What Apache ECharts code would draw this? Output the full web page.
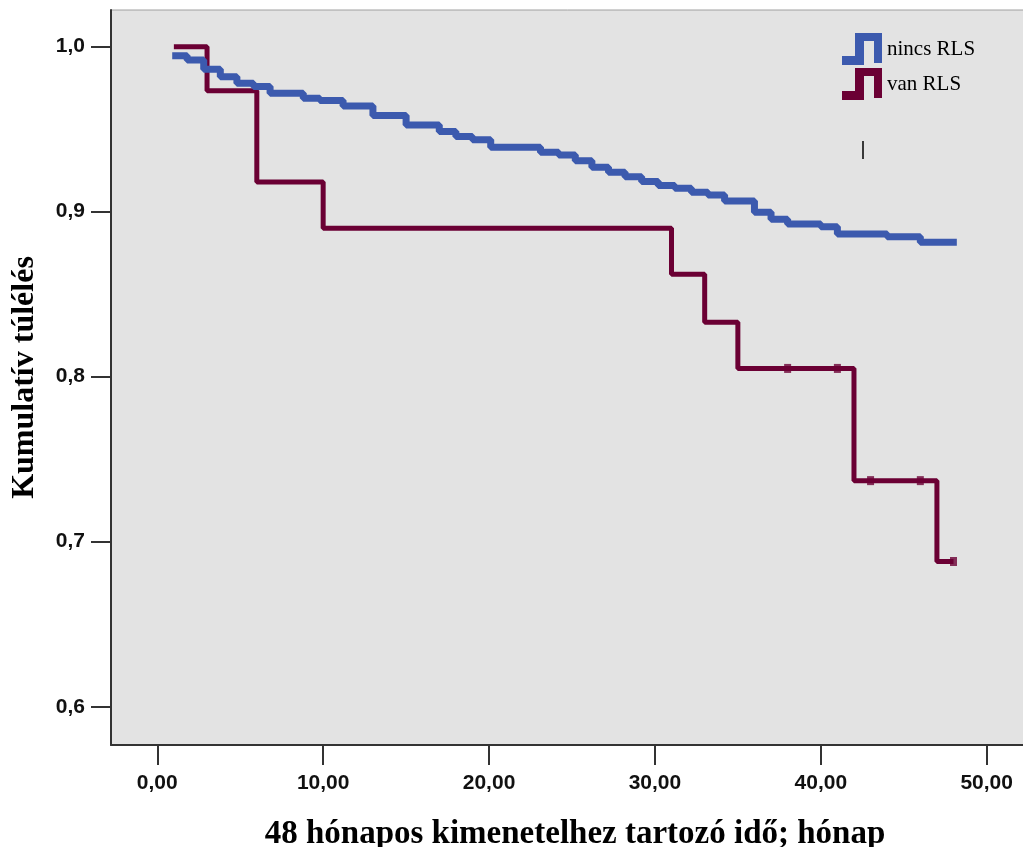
<!DOCTYPE html>
<html>
<head>
<meta charset="utf-8">
<script src="https://cdn.jsdelivr.net/npm/echarts@6/dist/echarts.min.js"></script>
<style>
html, body { margin: 0; padding: 0; background: #fff; }
#km { width: 1023px; height: 847px; }
</style>
</head>
<body>
<div id="km"></div>
<script>
// nincs RLS - lépések (idő, kumulatív túlélés)
var nincsIdo = [0.9, 1.8, 2.8, 3.8, 4.8, 5.8, 6.8, 8.8, 9.8, 11.2, 13, 15, 17, 18, 19, 20.1, 23.1, 24.2, 25.2, 26.2, 27.2, 28.2, 29.2, 30.2, 31.2, 32.2, 33.2, 34.2, 36, 37, 38, 40, 41, 44, 46, 48.2];
var nincsTulel = [0.9945, 0.9919, 0.9863, 0.9818, 0.9778, 0.9758, 0.9718, 0.9687, 0.9673, 0.9641, 0.9582, 0.9525, 0.9485, 0.9455, 0.9435, 0.9390, 0.9360, 0.9344, 0.9309, 0.9269, 0.9239, 0.9212, 0.9182, 0.9158, 0.9142, 0.9118, 0.9101, 0.9065, 0.8996, 0.8954, 0.8925, 0.8909, 0.8865, 0.8848, 0.8815, 0.8815];

// van RLS
var vanIdo = [1, 3, 6, 10, 31, 33, 35, 42, 47, 48];
var vanTulel = [1.0, 0.9733, 0.918, 0.890, 0.862, 0.833, 0.805, 0.737, 0.688, 0.688];
var vanCenzor = [38, 41, 43, 46, 48];

var xTicks = [0, 10, 20, 30, 40, 50];
var yTicks = [0.6, 0.7, 0.8, 0.9, 1.0];

var kekSzin = '#3c5aae';
var bordoSzin = '#6b0034';

function parok(ido, ertek) {
    return ido.map(function (t, i) { return [t, ertek[i]]; });
}
// cenzorált pontok értéke a lépcsőből
function kmErtek(t) {
    var v = vanTulel[0];
    for (var i = 0; i < vanIdo.length; i++) {
        if (vanIdo[i] <= t) v = vanTulel[i];
    }
    return v;
}

var ikon = 'path://M0,23L13,23L13,0L40,0L40,30L32,30L32,8L22,8L22,32L0,32Z';

var dom = document.getElementById('km');
var myChart = echarts.init(dom);
var option = {
    backgroundColor: '#fff',
    animation: false,
    grid: {
        left: 111, top: 10, right: -2, bottom: 102,
        outerBoundsMode: 'none',
        containLabel: false,
        show: true,
        backgroundColor: '#e3e3e3',
        borderColor: '#a0a0a0',
        borderWidth: 1
    },
    legend: {
        orient: 'vertical',
        left: 837, top: 28,
        itemWidth: 40, itemHeight: 32, itemGap: 3,
        itemStyle: { borderWidth: 0 },
        textStyle: { fontFamily: 'Liberation Serif', fontSize: 21, color: '#000' },
        data: [
            { name: 'nincs RLS', icon: ikon },
            { name: 'van RLS', icon: ikon }
        ]
    },
    xAxis: {
        type: 'value',
        min: -2.79, max: 52.31,
        name: '48 hónapos kimenetelhez tartozó idő; hónap',
        nameLocation: 'middle',
        nameGap: 89,
        nameTextStyle: { fontFamily: 'Liberation Serif', fontWeight: 'bold', fontSize: 33, color: '#000', verticalAlign: 'middle', padding: [0, 0, 0, 14] },
        axisLine: { onZero: false, lineStyle: { color: '#333', width: 2 } },
        axisTick: { show: true, length: 20, customValues: xTicks, lineStyle: { color: '#333', width: 2 } },
        axisLabel: {
            customValues: xTicks,
            margin: 28,
            fontFamily: 'Liberation Sans', fontWeight: 'bold', fontSize: 21, color: '#111',
            formatter: function (v) { return v.toFixed(2).replace('.', ','); }
        },
        splitLine: { show: false }
    },
    yAxis: {
        type: 'value',
        min: 0.5768, max: 1.0222,
        name: 'Kumulatív túlélés',
        nameLocation: 'middle',
        nameGap: 86,
        nameTextStyle: { fontFamily: 'Liberation Serif', fontWeight: 'bold', fontSize: 32, color: '#000', verticalAlign: 'middle' },
        axisLine: { show: true, onZero: false, lineStyle: { color: '#333', width: 2 } },
        axisTick: { show: true, length: 20, customValues: yTicks, lineStyle: { color: '#333', width: 2 } },
        axisLabel: {
            customValues: yTicks,
            margin: 26,
            fontFamily: 'Liberation Sans', fontWeight: 'bold', fontSize: 21, color: '#111',
            formatter: function (v) { return v.toFixed(1).replace('.', ','); }
        },
        splitLine: { show: false }
    },
    series: [
        {
            name: 'van RLS',
            type: 'line',
            step: 'end',
            showSymbol: false,
            color: bordoSzin,
            lineStyle: { color: bordoSzin, width: 5 },
            data: parok(vanIdo, vanTulel)
        },
        {
            name: 'van RLS',
            type: 'scatter',
            symbol: 'rect',
            symbolSize: [7, 9],
            itemStyle: { color: bordoSzin },
            data: vanCenzor.map(function (t) { return [t, kmErtek(t)]; })
        },
        {
            name: 'nincs RLS',
            type: 'line',
            step: 'end',
            showSymbol: false,
            color: kekSzin,
            lineStyle: { color: kekSzin, width: 7 },
            data: parok(nincsIdo, nincsTulel)
        }
    ],
    graphic: [
        { type: 'line', shape: { x1: 863, y1: 141, x2: 863, y2: 159 }, style: { stroke: '#000', lineWidth: 1.5 } }
    ]
};
if (option && typeof option === "object") {
    myChart.setOption(option, true);
}
</script>
</body>
</html>
